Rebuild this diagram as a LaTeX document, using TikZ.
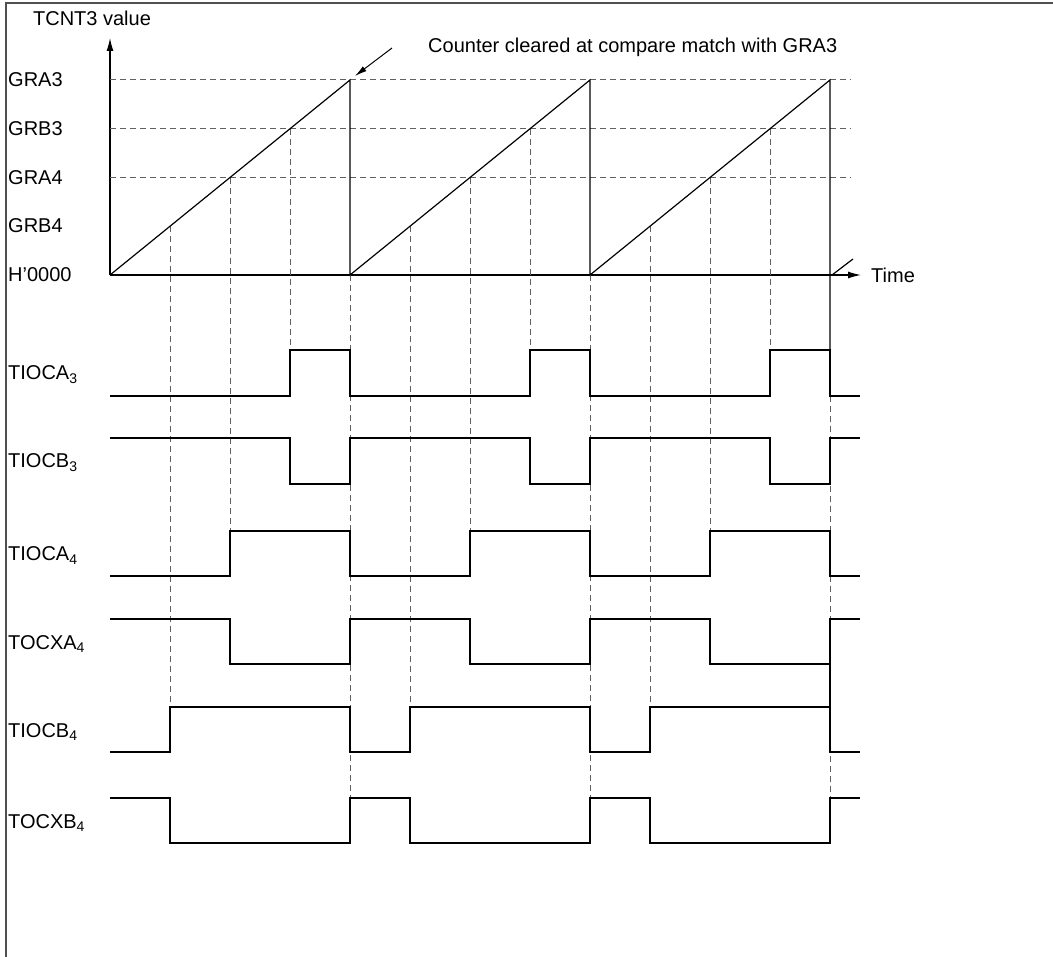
\documentclass[tikz,border=0pt]{standalone}
\usepackage{fontspec}
\setmainfont{Liberation Sans}
\usetikzlibrary{arrows.meta,calc}
\definecolor{guidegray}{HTML}{606060}
\definecolor{framegray}{HTML}{505050}

\begin{document}
\begin{tikzpicture}[x=1pt, y=-1pt,
    lbl/.style={inner sep=0pt, font=\fontsize{20}{24}\selectfont},
    sig/.style={line width=1.2pt},
    guide/.style={guidegray, line width=1pt, dash pattern=on 6pt off 4pt},
    axis/.style={line width=1.2pt, -{Latex[length=13pt,width=7pt]}}]
        \useasboundingbox (0,0) rectangle (1053,957);
        \draw[framegray, line width=2pt] (6,957) -- (6,3) -- (1053,3);

        % axes
        \coordinate (origin) at (110,275);
        \coordinate (ytip) at (110,38);
        \coordinate (xtip) at (861,275);
        \coordinate (peak) at (350,80);
        \draw[axis] (origin) -- (ytip);
        \draw[axis] (origin) -- (xtip);
        \node[lbl] (ylabel) at (92,18) {TCNT3 value};
        \node[lbl, anchor=west] (tlabel) at ($(xtip)+(10,0)$) {Time};
        \draw[sig] (832,275) -- (853,259);

        % compare levels
        \foreach \name/\y in {GRA3/80, GRB3/129, GRA4/178, GRB4/226, H'0000/275} {
            \node[lbl, anchor=west] (lv\y) at (8,\y) {\name};
        }
        \foreach \y in {80,129,178} {
            \draw[guide] (110,\y) -- (851,\y);
        }

        % guide lines
        \foreach \t in {110,350,590} {
            \draw[guide] ({\t+60},226) -- ({\t+60},707);
            \draw[guide] ({\t+120},178) -- ({\t+120},531);
            \draw[guide] ({\t+180},129) -- ({\t+180},350);
        }
        \foreach \x in {350,590} {
            \draw[guide] (\x,275) -- (\x,843);
        }
        \draw[guide] (830,396) -- (830,843);

        % counter ramps
        \draw[sig] (origin) -- (peak) -- (350,275) -- (590,80) -- (590,275) -- (830,80) -- (830,350);
        \draw[sig] (830,664) -- (830,707);

        \node[lbl, anchor=west] (note) at (428,47) {Counter cleared at compare match with GRA3};
        \draw[line width=1pt, -{Latex[length=12pt,width=6pt]}] ($(note.west)+(-36,1)$) -- ($(peak)+(5,-4)$);

        % output waveforms
        \foreach \ya/\yb/\d in {396/350/180, 438/484/180, 576/531/120, 619/664/120, 752/707/60, 798/843/60} {
            \draw[sig] (110,\ya)
                \foreach \t in {110,350,590} { -| ({\t+\d},\yb) -| ({\t+240},\ya) }
                -- (860,\ya);
        }
        \node[lbl, anchor=base west] (tioca3) at (8,380) {TIOCA\textsubscript{3}};
        \node[lbl, anchor=base west] (tiocb3) at (8,468) {TIOCB\textsubscript{3}};
        \node[lbl, anchor=base west] (tioca4) at (8,561) {TIOCA\textsubscript{4}};
        \node[lbl, anchor=base west] (tocxa4) at (8,649) {TOCXA\textsubscript{4}};
        \node[lbl, anchor=base west] (tiocb4) at (8,737) {TIOCB\textsubscript{4}};
        \node[lbl, anchor=base west] (tocxb4) at (8,828) {TOCXB\textsubscript{4}};
\end{tikzpicture}
\end{document}
